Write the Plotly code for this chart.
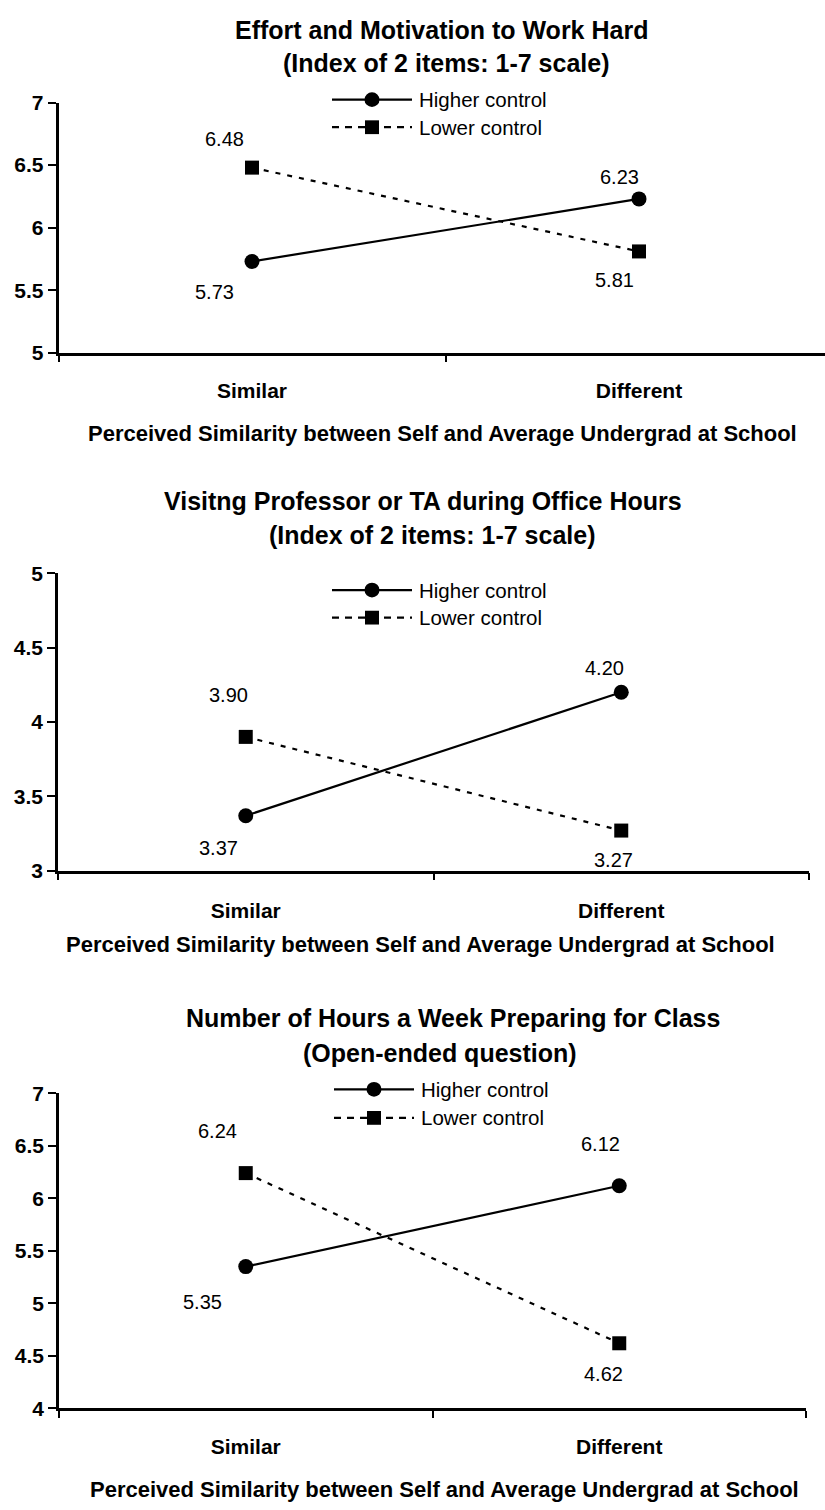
import plotly.graph_objects as go

W, H = 825, 1510
FONT = "Liberation Sans, Arial, sans-serif"

# ---- data -------------------------------------------------------------
CATEGORIES = ["Similar", "Different"]
SERIES_NAMES = ["Higher control", "Lower control"]
X_AXIS_TITLE = "Perceived Similarity between Self and Average Undergrad at School"

TITLES_1 = ["Effort and Motivation to Work Hard", "(Index of 2 items: 1-7 scale)"]
HIGHER_1 = [5.73, 6.23]
LOWER_1 = [6.48, 5.81]
Y_TICKS_1 = [5, 5.5, 6, 6.5, 7]

TITLES_2 = ["Visitng Professor or TA during Office Hours", "(Index of 2 items: 1-7 scale)"]
HIGHER_2 = [3.37, 4.20]
LOWER_2 = [3.90, 3.27]
Y_TICKS_2 = [3, 3.5, 4, 4.5, 5]

TITLES_3 = ["Number of Hours a Week Preparing for Class", "(Open-ended question)"]
HIGHER_3 = [5.35, 6.12]
LOWER_3 = [6.24, 4.62]
Y_TICKS_3 = [4, 4.5, 5, 5.5, 6, 6.5, 7]

# ---- per-panel layout (pixel positions) -------------------------------
PANELS = [
    dict(titles=TITLES_1, higher=HIGHER_1, lower=LOWER_1, yticks=Y_TICKS_1,
         box=(58.5, 825, 92, 346), xspan=387,
         title_y=(18, 52), title_x=(441, 446),
         legend_y=(89, 117), legend_x=(332, 412, 372, 417),
         cat_gap=17, axis_title=(442, 428),
         off_hi=[(-38, 31), (-20, -22)], off_lo=[(-28, -29), (-25, 29)]),
    dict(titles=TITLES_2, higher=HIGHER_2, lower=LOWER_2, yticks=Y_TICKS_2,
         box=(58, 809, 570, 872), xspan=None,
         title_y=(497, 531), title_x=(423, 432),
         legend_y=(587, 615), legend_x=(332, 412, 372, 417),
         cat_gap=19, axis_title=(421, 947),
         off_hi=[(-27, 32), (-17, -24)], off_lo=[(-17, -42), (-8, 29)]),
    dict(titles=TITLES_3, higher=HIGHER_3, lower=LOWER_3, yticks=Y_TICKS_3,
         box=(59, 806, 1098, 1418), xspan=None,
         title_y=(1022, 1057), title_x=(453, 440),
         legend_y=(1094, 1123), legend_x=(334, 414, 374, 419),
         cat_gap=18, axis_title=(444, 1500),
         off_hi=[(-43, 35), (-19, -42)], off_lo=[(-28, -42), (-16, 31)]),
]

DASH = "5px,7px"


def fx(p):
    return p / W


def fy(p):
    return 1 - p / H


fig = go.Figure()
annotations = []
shapes = []
xcat = list(range(len(CATEGORIES)))

for i, pn in enumerate(PANELS, start=1):
    sfx = "" if i == 1 else str(i)
    xref, yref = "x" + sfx, "y" + sfx
    left, right, top, bottom = pn["box"]
    if pn["xspan"]:
        xr = [-0.5, -0.5 + (right - left) / pn["xspan"]]
    else:
        xr = [-0.5, len(CATEGORIES) - 0.5]

    fig.add_trace(go.Scatter(
        x=xcat, y=pn["higher"], name=SERIES_NAMES[0], mode="lines+markers",
        line=dict(color="black", width=2.2),
        marker=dict(symbol="circle", size=15, color="black"),
        xaxis=xref, yaxis=yref, showlegend=False, cliponaxis=False))
    fig.add_trace(go.Scatter(
        x=xcat, y=pn["lower"], name=SERIES_NAMES[1], mode="lines+markers",
        line=dict(color="black", width=2.2, dash=DASH),
        marker=dict(symbol="square", size=14, color="black"),
        xaxis=xref, yaxis=yref, showlegend=False, cliponaxis=False))

    fig.update_layout(**{
        "xaxis" + sfx: dict(
            domain=[fx(left), fx(right)], range=xr, anchor=yref,
            showline=True, linecolor="black", linewidth=2.5,
            showgrid=False, zeroline=False,
            tickmode="array", tickvals=xcat, ticktext=CATEGORIES, ticks="",
            ticklabelstandoff=pn["cat_gap"],
            tickfont=dict(family=FONT, size=21, color="black", weight="bold"),
            minor=dict(tickmode="array", tickvals=[-0.5, 0.5, 1.5],
                       ticks="outside", ticklen=7, tickwidth=2, tickcolor="black",
                       showgrid=False),
            fixedrange=True),
        "yaxis" + sfx: dict(
            domain=[fy(bottom), fy(top)],
            range=[pn["yticks"][0], pn["yticks"][-1]], anchor=xref,
            showline=True, linecolor="black", linewidth=2.5,
            showgrid=False, zeroline=False,
            tickmode="array", tickvals=pn["yticks"],
            ticks="outside", ticklen=8, tickwidth=2, tickcolor="black",
            tickfont=dict(family=FONT, size=21, color="black", weight="bold"),
            fixedrange=True),
    })

    # two-line chart title
    for line, ty, tx in zip(pn["titles"], pn["title_y"], pn["title_x"]):
        annotations.append(dict(
            text=line, xref="paper", yref="paper", x=fx(tx), y=fy(ty),
            xanchor="center", yanchor="middle", showarrow=False,
            font=dict(family=FONT, size=25, color="black", weight="bold")))

    # x-axis title
    ax_x, ax_y = pn["axis_title"]
    annotations.append(dict(
        text=X_AXIS_TITLE, xref="paper", yref="paper", x=fx(ax_x), y=fy(ax_y),
        xanchor="center", yanchor="middle", showarrow=False,
        font=dict(family=FONT, size=22, color="black", weight="bold")))

    # value labels next to each point
    for vals, offs in ((pn["higher"], pn["off_hi"]), (pn["lower"], pn["off_lo"])):
        for xc, v, (dx, dy) in zip(xcat, vals, offs):
            annotations.append(dict(
                text=f"{v:.2f}", x=xc, y=v, xref=xref, yref=yref,
                xshift=dx, yshift=-dy, showarrow=False,
                xanchor="center", yanchor="middle",
                font=dict(family=FONT, size=20, color="black")))

    # legend: line sample with marker, then series name
    lx0, lx1, lmx, ltx = pn["legend_x"]
    for k, (name, ly) in enumerate(zip(SERIES_NAMES, pn["legend_y"])):
        shapes.append(dict(
            type="line", xref="paper", yref="paper",
            x0=fx(lx0), x1=fx(lx1), y0=fy(ly), y1=fy(ly),
            line=dict(color="black", width=2.2, dash="solid" if k == 0 else "7px,6px")))
        if k == 0:
            shapes.append(dict(
                type="circle", xref="paper", yref="paper",
                x0=fx(lmx - 7.5), x1=fx(lmx + 7.5), y0=fy(ly + 7.5), y1=fy(ly - 7.5),
                fillcolor="black", line=dict(color="black", width=0)))
        else:
            shapes.append(dict(
                type="rect", xref="paper", yref="paper",
                x0=fx(lmx - 7), x1=fx(lmx + 7), y0=fy(ly + 7), y1=fy(ly - 7),
                fillcolor="black", line=dict(color="black", width=0)))
        annotations.append(dict(
            text=name, xref="paper", yref="paper", x=fx(ltx), y=fy(ly),
            xanchor="left", yanchor="middle", showarrow=False,
            font=dict(family=FONT, size=20.5, color="black")))

fig.update_layout(
    width=W, height=H,
    margin=dict(l=0, r=0, t=0, b=0),
    paper_bgcolor="white", plot_bgcolor="white",
    showlegend=False,
    annotations=annotations, shapes=shapes,
)

fig.write_html("out.html")
